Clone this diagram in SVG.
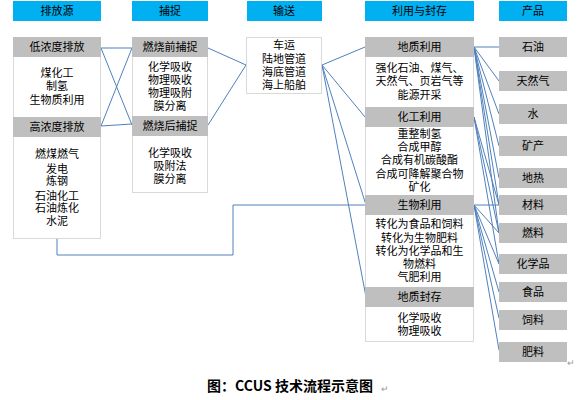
<svg xmlns="http://www.w3.org/2000/svg" width="585" height="400" viewBox="0 0 585 400">
<style>
text{font-family:"Noto Sans CJK SC","Liberation Sans",sans-serif;font-size:11px;fill:#000;text-anchor:middle}
.hd{fill:#00B0F0}
.gh{fill:#BFBFBF}
.bd{fill:#fff;stroke:#D9D9D9;stroke-width:1}
.cn line,.cn polyline{stroke:#4F81BD;stroke-width:1;fill:none}
.cap{font-weight:bold;font-size:14px}
.rm{font-size:9px;fill:#999;text-anchor:start}
</style>
<rect width="585" height="400" fill="#fff"/>
<g id="connectors" class="cn">
<line x1="101" y1="48" x2="132" y2="48"/>
<line x1="101" y1="48" x2="132" y2="125"/>
<line x1="101" y1="126" x2="132" y2="48"/>
<line x1="101" y1="126" x2="132" y2="124"/>
<line x1="208" y1="48" x2="246" y2="65"/>
<line x1="208" y1="125" x2="246" y2="65"/>
<line x1="322" y1="65" x2="365" y2="47"/>
<line x1="322" y1="65" x2="365" y2="117"/>
<line x1="322" y1="65" x2="366" y2="205"/>
<line x1="322" y1="65" x2="366" y2="297"/>
<polyline points="57,239 57,255 233,255 233,205 366,205"/>
<line x1="474" y1="47" x2="499" y2="47"/>
<line x1="474" y1="47" x2="499" y2="81"/>
<line x1="474" y1="47" x2="499" y2="114"/>
<line x1="474" y1="47" x2="499" y2="146"/>
<line x1="474" y1="47" x2="499" y2="178"/>
<line x1="474" y1="47" x2="499" y2="205"/>
<line x1="474" y1="47" x2="499" y2="233"/>
<line x1="474" y1="117" x2="499" y2="205"/>
<line x1="474" y1="117" x2="499" y2="233"/>
<line x1="474" y1="117" x2="499" y2="264"/>
<line x1="474" y1="205" x2="499" y2="205"/>
<line x1="474" y1="205" x2="499" y2="233"/>
<line x1="474" y1="205" x2="499" y2="264"/>
<line x1="474" y1="205" x2="499" y2="292"/>
<line x1="474" y1="205" x2="499" y2="318"/>
<line x1="474" y1="205" x2="499" y2="350"/>
</g>
<g id="h1"><rect class="hd" x="13" y="1" width="88" height="20"/><text x="57" y="15">排放源</text></g>
<g id="h2"><rect class="hd" x="132" y="1" width="76" height="20"/><text x="170" y="15">捕捉</text></g>
<g id="h3"><rect class="hd" x="247" y="1" width="75" height="20"/><text x="284" y="15">输送</text></g>
<g id="h4"><rect class="hd" x="365" y="1" width="109" height="20"/><text x="419.5" y="15">利用与封存</text></g>
<g id="h5"><rect class="hd" x="499" y="1" width="68" height="20"/><text x="533" y="15">产品</text></g>

<g id="src">
<rect class="bd" x="13.5" y="37.5" width="87" height="201"/>
<rect class="gh" x="13" y="37" width="88" height="20"/><text x="57" y="51">低浓度排放</text>
<text x="57" y="77">煤化工</text><text x="57" y="90">制氢</text><text x="57" y="104">生物质利用</text>
<rect class="gh" x="13" y="117" width="88" height="20"/><text x="57" y="131">高浓度排放</text>
<text x="57" y="158">燃煤燃气</text><text x="57" y="173">发电</text><text x="57" y="185">炼钢</text><text x="57" y="200">石油化工</text><text x="57" y="212">石油炼化</text><text x="57" y="225">水泥</text>
</g>
<g id="cap">
<rect class="bd" x="132.5" y="37.5" width="75" height="155"/>
<rect class="gh" x="132" y="37" width="76" height="20"/><text x="170" y="51">燃烧前捕捉</text>
<text x="170" y="71">化学吸收</text><text x="170" y="84">物理吸收</text><text x="170" y="97">物理吸附</text><text x="170" y="110">膜分离</text>
<rect class="gh" x="132" y="116" width="76" height="20"/><text x="170" y="130">燃烧后捕捉</text>
<text x="170" y="157">化学吸收</text><text x="170" y="170">吸附法</text><text x="170" y="183">膜分离</text>
</g>
<g id="trans">
<rect class="bd" x="246.5" y="37.5" width="75" height="56"/>
<text x="284" y="49">车运</text><text x="284" y="63">陆地管道</text><text x="284" y="76">海底管道</text><text x="284" y="89">海上船舶</text>
</g>
<g id="use">
<rect class="bd" x="365.5" y="37.5" width="108" height="304"/>
<rect class="gh" x="365" y="37" width="109" height="20"/><text x="419.5" y="51">地质利用</text>
<text x="419.5" y="72">强化石油、煤气、</text><text x="419.5" y="85">天然气、页岩气等</text><text x="419.5" y="99">能源开采</text>
<rect class="gh" x="365" y="107" width="109" height="20"/><text x="419.5" y="121">化工利用</text>
<text x="419.5" y="138">重整制氢</text><text x="419.5" y="151">合成甲醇</text><text x="419.5" y="164">合成有机碳酸酯</text><text x="419.5" y="178">合成可降解聚合物</text><text x="419.5" y="191">矿化</text>
<rect class="gh" x="365" y="195" width="109" height="20"/><text x="419.5" y="209">生物利用</text>
<text x="419.5" y="228">转化为食品和饲料</text><text x="419.5" y="242">转化为生物肥料</text><text x="419.5" y="255">转化为化学品和生</text><text x="419.5" y="268">物燃料</text><text x="419.5" y="281">气肥利用</text>
<rect class="gh" x="365" y="287" width="109" height="20"/><text x="419.5" y="301">地质封存</text>
<text x="419.5" y="322">化学吸收</text><text x="419.5" y="335">物理吸收</text>
</g>
<g id="p1"><rect class="gh" x="499" y="37" width="68" height="20"/><text x="533" y="51">石油</text></g>
<g id="p2"><rect class="gh" x="499" y="71" width="68" height="20"/><text x="533" y="85">天然气</text></g>
<g id="p3"><rect class="gh" x="499" y="104" width="68" height="20"/><text x="533" y="118">水</text></g>
<g id="p4"><rect class="gh" x="499" y="136" width="68" height="20"/><text x="533" y="150">矿产</text></g>
<g id="p5"><rect class="gh" x="499" y="168" width="68" height="20"/><text x="533" y="182">地热</text></g>
<g id="p6"><rect class="gh" x="499" y="195" width="68" height="20"/><text x="533" y="209">材料</text></g>
<g id="p7"><rect class="gh" x="499" y="223" width="68" height="20"/><text x="533" y="237">燃料</text></g>
<g id="p8"><rect class="gh" x="499" y="254" width="68" height="20"/><text x="533" y="268">化学品</text></g>
<g id="p9"><rect class="gh" x="499" y="282" width="68" height="20"/><text x="533" y="296">食品</text></g>
<g id="p10"><rect class="gh" x="499" y="310" width="68" height="20"/><text x="533" y="324">饲料</text></g>
<g id="p11"><rect class="gh" x="499" y="342" width="68" height="20"/><text x="533" y="356">肥料</text></g>
<text class="rm" x="567" y="366">↵</text>
<text class="cap" x="290" y="391">图：CCUS 技术流程示意图</text>
<text class="rm" x="381" y="392">↵</text>
</svg>
